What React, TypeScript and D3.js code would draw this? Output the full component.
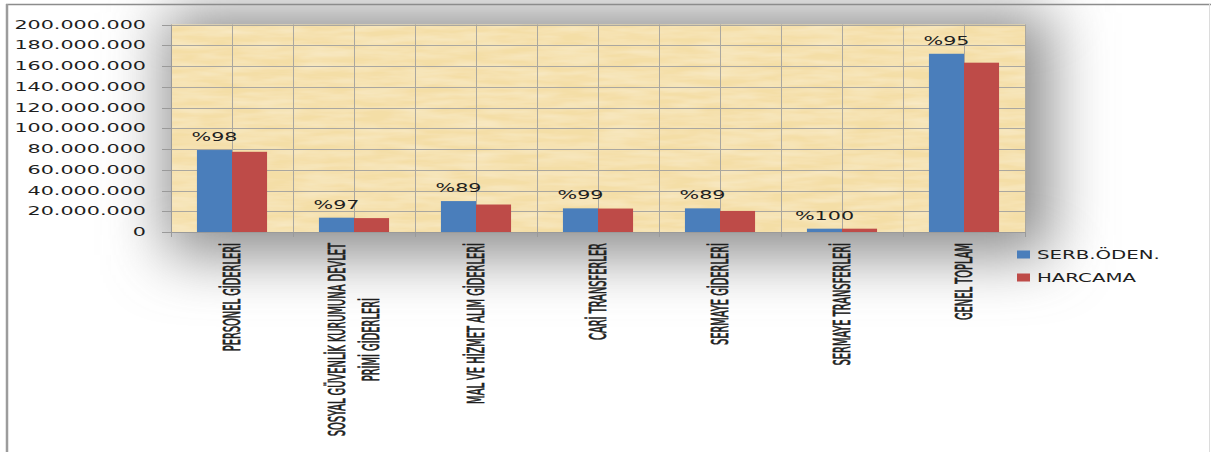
import * as d3 from "d3";
import { useEffect, useRef } from "react";

// chart data (TL)
const categories = [
	"PERSONEL GİDERLERİ",
	"SOSYAL GÜVENLİK KURUMUNA DEVLET PRİMİ GİDERLERİ",
	"MAL VE HİZMET ALIM GİDERLERİ",
	"CARİ TRANSFERLER",
	"SERMAYE GİDERLERİ",
	"SERMAYE TRANSFERLERİ",
	"GENEL TOPLAM",
];
// how each category label wraps on the axis
const categoryLines = [
	["PERSONEL GİDERLERİ"],
	["SOSYAL GÜVENLİK KURUMUNA DEVLET", "PRİMİ GİDERLERİ"],
	["MAL VE HİZMET ALIM GİDERLERİ"],
	["CARİ TRANSFERLER"],
	["SERMAYE GİDERLERİ"],
	["SERMAYE TRANSFERLERİ"],
	["GENEL TOPLAM"],
];
const serbOden = [79000000, 13800000, 29800000, 22800000, 22800000, 3200000, 171800000];
const harcama = [77300000, 13400000, 26500000, 22600000, 20300000, 3200000, 163200000];
const percentLabels = ["%98", "%97", "%89", "%99", "%89", "%100", "%95"];
const seriesNames = ["SERB.ÖDEN.", "HARCAMA"];
const seriesColors = ["#4a7ebb", "#be4b48"];
const yTicks = [0, 20000000, 40000000, 60000000, 80000000, 100000000, 120000000, 140000000, 160000000, 180000000, 200000000];

const width = 1211;
const height = 452;
const margin = { top: 24.5, right: 186, bottom: 220, left: 171 };

const trLocale = d3.formatLocale({ decimal: ",", thousands: ".", grouping: [3], currency: ["", "TL"] });
const fmt = trLocale.format(",.0f");

const App = () => {
	const svgRef = useRef<SVGSVGElement | null>(null);

	useEffect(() => {
		const svg = d3.select(svgRef.current);
		svg.selectAll("*").remove();

		const x0 = margin.left;
		const x1 = width - margin.right;
		const yTop = margin.top;
		const yBottom = height - margin.bottom;

		const xScale = d3.scaleBand<string>().domain(categories).range([x0, x1]).padding(0);
		const seriesScale = d3
			.scaleBand<number>()
			.domain([0, 1])
			.range([0, xScale.bandwidth()])
			.paddingInner(0)
			.paddingOuter(0.74);
		const yScale = d3.scaleLinear().domain([0, 200000000]).range([yBottom, yTop]);

		const defs = svg.append("defs");
		const blur = defs
			.append("filter")
			.attr("id", "shade")
			.attr("x", "-50%")
			.attr("y", "-50%")
			.attr("width", "200%")
			.attr("height", "200%");
		blur.append("feGaussianBlur").attr("stdDeviation", 30);

		//paper texture for the plot area: light streaks over a pale yellow
		const paper = defs
			.append("filter")
			.attr("id", "paper")
			.attr("x", 0)
			.attr("y", 0)
			.attr("width", "100%")
			.attr("height", "100%");
		paper
			.append("feTurbulence")
			.attr("type", "fractalNoise")
			.attr("baseFrequency", "0.02 0.14")
			.attr("numOctaves", 3)
			.attr("seed", 7)
			.attr("result", "noise");
		paper
			.append("feColorMatrix")
			.attr("in", "noise")
			.attr("type", "matrix")
			.attr("values", "0 0 0 0 1  0 0 0 0 0.96  0 0 0 0 0.84  0 0 0 0.55 -0.15")
			.attr("result", "tint");
		paper.append("feComposite").attr("in", "tint").attr("in2", "SourceGraphic").attr("operator", "in").attr("result", "tex");
		const merge = paper.append("feMerge");
		merge.append("feMergeNode").attr("in", "SourceGraphic");
		merge.append("feMergeNode").attr("in", "tex");

		//background and soft shadow round the plot
		svg.append("rect").attr("width", width).attr("height", height).attr("fill", "#ffffff");
		svg
			.append("rect")
			.attr("x", x0 - 5)
			.attr("y", yTop - 12)
			.attr("width", x1 - x0 + 30)
			.attr("height", yBottom - yTop + 35)
			.attr("fill", "#8a8a8a")
			.attr("filter", "url(#shade)");

		//borders
		svg.append("line").attr("x1", 6).attr("x2", width).attr("y1", 4.5).attr("y2", 4.5).attr("stroke", "#8c8c8c").attr("stroke-width", 1.5);
		svg.append("line").attr("x1", 7).attr("x2", 7).attr("y1", 4).attr("y2", height).attr("stroke", "#9c9c9c").attr("stroke-width", 2.5);
		svg.append("line").attr("x1", width - 1.5).attr("x2", width - 1.5).attr("y1", 4).attr("y2", height).attr("stroke", "#dcdcdc").attr("stroke-width", 1);

		//plot area
		svg
			.append("rect")
			.attr("x", x0)
			.attr("y", yTop)
			.attr("width", x1 - x0)
			.attr("height", yBottom - yTop)
			.attr("fill", "#f4dea6")
			.attr("filter", "url(#paper)");

		//grid
		const grid = svg.append("g").attr("stroke", "#aaa79f").attr("stroke-width", 1);
		grid
			.selectAll("line.h")
			.data(yTicks.filter((t) => t > 0))
			.enter()
			.append("line")
			.attr("x1", x0)
			.attr("x2", x1)
			.attr("y1", (d) => Math.round(yScale(d)) + 0.5)
			.attr("y2", (d) => Math.round(yScale(d)) + 0.5);
		const halfLines: number[] = [];
		categories.forEach((c) => {
			halfLines.push(xScale(c)! + xScale.bandwidth() / 2);
			halfLines.push(xScale(c)! + xScale.bandwidth());
		});
		grid
			.selectAll("line.v")
			.data(halfLines)
			.enter()
			.append("line")
			.attr("x1", (d) => Math.round(d) + 0.5)
			.attr("x2", (d) => Math.round(d) + 0.5)
			.attr("y1", yTop)
			.attr("y2", yBottom);

		//bars
		const barsG = svg.append("g");
		[serbOden, harcama].forEach((series, si) => {
			barsG
				.selectAll(`rect.s${si}`)
				.data(series)
				.enter()
				.append("rect")
				.attr("x", (d, i) => xScale(categories[i])! + seriesScale(si)!)
				.attr("width", seriesScale.bandwidth())
				.attr("y", (d) => yScale(d))
				.attr("height", (d) => yBottom - yScale(d))
				.attr("fill", seriesColors[si]);
		});

		//axes
		const axisColor = "#9a9a9a";
		svg.append("line").attr("x1", x0 + 0.5).attr("x2", x0 + 0.5).attr("y1", yTop).attr("y2", yBottom + 4).attr("stroke", axisColor);
		svg.append("line").attr("x1", x0 - 8).attr("x2", x1).attr("y1", yBottom + 0.5).attr("y2", yBottom + 0.5).attr("stroke", axisColor);
		svg
			.append("g")
			.selectAll("line")
			.data(yTicks)
			.enter()
			.append("line")
			.attr("x1", x0 - 9)
			.attr("x2", x0)
			.attr("y1", (d) => Math.round(yScale(d)) + 0.5)
			.attr("y2", (d) => Math.round(yScale(d)) + 0.5)
			.attr("stroke", axisColor);
		svg
			.append("g")
			.selectAll("line")
			.data(categories.map((c) => xScale(c)!).concat([x1]))
			.enter()
			.append("line")
			.attr("x1", (d) => Math.round(d) + 0.5)
			.attr("x2", (d) => Math.round(d) + 0.5)
			.attr("y1", yBottom)
			.attr("y2", yBottom + 5)
			.attr("stroke", axisColor);

		const wideFont = "'DejaVu Sans', Verdana, sans-serif";
		const sx = 1.8;

		//y tick labels (the picture is stretched sideways)
		svg
			.append("g")
			.selectAll("text")
			.data(yTicks)
			.enter()
			.append("text")
			.attr("transform", (d) => `translate(${x0 - 25},${yScale(d)}) scale(${sx},1)`)
			.attr("text-anchor", "end")
			.attr("dy", "0.36em")
			.attr("font-family", wideFont)
			.attr("font-size", 11.5)
			.attr("fill", "#1e1e1e")
			.text((d) => fmt(d));

		//percent labels above the blue bars
		svg
			.append("g")
			.selectAll("text")
			.data(percentLabels)
			.enter()
			.append("text")
			.attr(
				"transform",
				(d, i) =>
					`translate(${xScale(categories[i])! + seriesScale(0)! + seriesScale.bandwidth() / 2},${yScale(serbOden[i]) - 9}) scale(${sx},1)`
			)
			.attr("text-anchor", "middle")
			.attr("font-family", wideFont)
			.attr("font-size", 11.5)
			.attr("fill", "#1e1e1e")
			.text((d) => d);

		//rotated category labels
		const sy = 2.1;
		const lineGap = 34;
		categoryLines.forEach((lines, i) => {
			const cx = xScale(categories[i])! + xScale.bandwidth() / 2;
			const g = svg
				.append("g")
				.attr("transform", `translate(${cx},${yBottom + 11}) rotate(-90) scale(1,${sy})`);
			const texts = lines.map((line, li) =>
				g
					.append("text")
					.attr("y", ((li - (lines.length - 1) / 2) * lineGap) / sy)
					.attr("dominant-baseline", "central")
					.attr("font-family", "'DejaVu Sans Condensed', 'DejaVu Sans', sans-serif")
					.attr("font-stretch", "condensed")
					.attr("font-size", 11)
					.attr("fill", "#1e1e1e")
					.attr("stroke", "#1e1e1e")
					.attr("stroke-width", 0.35)
					.text(line)
			);
			const lengths = texts.map((t) => (t.node() as SVGTextElement).getComputedTextLength());
			const longest = d3.max(lengths) || 0;
			texts.forEach((t) => t.attr("text-anchor", "middle").attr("x", -longest / 2));
		});

		//legend
		const legend = svg.append("g").attr("transform", `translate(1017,254.5)`);
		seriesNames.forEach((name, i) => {
			legend
				.append("rect")
				.attr("x", 0)
				.attr("y", i * 23 - 4)
				.attr("width", 13)
				.attr("height", 8)
				.attr("fill", seriesColors[i]);
			legend
				.append("text")
				.attr("transform", `translate(20,${i * 23}) scale(1.72,1)`)
				.attr("dy", "0.36em")
				.attr("font-family", wideFont)
				.attr("font-size", 11.5)
				.attr("fill", "#1e1e1e")
				.text(name);
		});
	}, []);

	return (
		<svg
			ref={svgRef}
			width={width}
			height={height}
			style={{ position: "absolute", left: 0, top: 0, display: "block" }}
		/>
	);
};

export default App;
